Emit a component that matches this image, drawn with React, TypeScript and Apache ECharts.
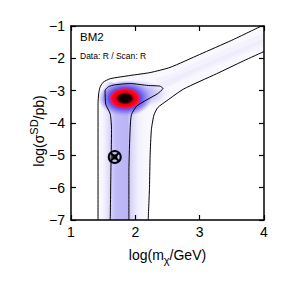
import React, { useEffect, useRef } from 'react';
import * as echarts from 'echarts';

// axis ranges / ticks
const xRange = [1, 4];
const yRange = [-7, -1];

// outer (95%) contour: left/top branch and lower/right branch
const outerUpper: [number, number][] = [
  [1.42, -7], [1.42, -5.5], [1.42, -4], [1.42, -3.4], [1.43, -3.1], [1.45, -2.9], [1.5, -2.74],
  [1.61, -2.63], [1.92, -2.53], [2.23, -2.44], [2.54, -2.28], [3.0, -1.88], [3.5, -1.44], [3.96, -1.0],
];
const outerLower: [number, number][] = [
  [2.2, -7], [2.22, -6], [2.23, -5], [2.25, -4.2], [2.29, -3.75], [2.35, -3.52], [2.49, -3.31],
  [2.75, -2.95], [3.26, -2.48], [3.68, -2.08], [4.0, -1.79],
];
// inner (68%) contour
const innerContour: [number, number][] = [
  [1.61, -7], [1.62, -5.5], [1.63, -4.2], [1.61, -3.72], [1.54, -3.42], [1.53, -3.0], [1.58, -2.88],
  [1.68, -2.82], [1.92, -2.78], [2.2, -2.84], [2.38, -2.86], [2.43, -2.93], [2.34, -3.1],
  [2.18, -3.28], [2.02, -3.48], [1.94, -3.74], [1.92, -4.15], [1.9, -5.5], [1.9, -7],
];

// density layers
const armCore: [number, number][] = [
  [2.3, -2.62], [2.6, -2.45], [3.0, -2.06], [3.5, -1.63], [4.0, -1.2], [4.0, -1.62],
  [3.5, -2.03], [3.0, -2.45], [2.6, -2.8], [2.4, -3.0],
];
const armInner: [number, number][] = [
  [2.35, -2.78], [3.0, -2.24], [3.6, -1.72], [4.0, -1.38], [4.0, -1.5], [3.6, -1.86],
  [3.0, -2.36], [2.45, -2.92],
];
const stripBand: [number, number][] = [
  [1.44, -7], [2.2, -7], [2.22, -3.7], [2.05, -3.25], [1.85, -2.92], [1.6, -2.72], [1.47, -2.85], [1.44, -3.1],
];
// broad halo around the peak: [x, y, rx, ry]
const halo = [2.0, -3.1, 0.52, 0.45];
// peak of the posterior: [x, y, rx, ry]
const peak = [1.84, -3.24, 0.42, 0.56];
// benchmark point
const benchmark: [number, number][] = [[1.68, -5.05]];

const fmtY = (v: number) => (v < 0 ? '\u2212' + Math.abs(v) : String(v));

function polySeries(points: [number, number][], fill: any, z = 1) {
  return {
    type: 'custom',
    coordinateSystem: 'cartesian2d',
    silent: true,
    z,
    clip: true,
    data: [points[0]],
    renderItem: (params: any, api: any) => ({
      type: 'polygon',
      shape: { points: points.map((p) => api.coord(p)) },
      style: { fill, stroke: 'none' },
    }),
  };
}

function glowSeries(item: number[], stops: { offset: number; color: string }[], z: number) {
  return {
    type: 'custom',
    coordinateSystem: 'cartesian2d',
    silent: true,
    z,
    clip: true,
    data: [item],
    renderItem: (params: any, api: any) => {
      const c = api.coord([api.value(0), api.value(1)]);
      const s = api.size([api.value(2), api.value(3)]);
      const ry = s[1];
      return {
        type: 'group',
        x: c[0], y: c[1],
        scaleX: s[0] / ry,
        children: [{
          type: 'circle',
          shape: { cx: 0, cy: 0, r: ry },
          style: { fill: new echarts.graphic.RadialGradient(0.5, 0.5, 0.5, stops) },
        }],
      };
    },
  };
}

export default function App() {
  const ref = useRef<HTMLDivElement>(null);
  useEffect(() => {
    if (!ref.current) return;
    const chart = echarts.init(ref.current, null, { renderer: 'svg' });
    const font = 'Liberation Sans, Arial, sans-serif';
    const axisCommon = {
      type: 'value',
      interval: 1,
      z: 10,
      axisLine: { show: true, lineStyle: { color: '#000', width: 1.5 } },
      axisTick: { show: true, inside: true, length: 5, lineStyle: { color: '#000', width: 1.2 } },
      splitLine: { show: false },
    };
    const outerPoly = [...outerUpper, [4, -1] as [number, number], ...outerLower.slice().reverse()];
    chart.setOption({
      animation: false,
      grid: { left: 71, right: 27, top: 26, bottom: 71 },
      xAxis: [
        {
          ...axisCommon,
          min: xRange[0], max: xRange[1], position: 'bottom',
          axisLabel: { fontSize: 14, color: '#000', margin: 5, fontFamily: font },
          name: 'log(m{sub|\u03c7}/GeV)',
          nameLocation: 'middle',
          nameGap: 22,
          nameTextStyle: {
            fontSize: 14, color: '#000', fontFamily: font, lineHeight: 22,
            rich: { sub: { fontSize: 11, color: '#000', fontFamily: font, verticalAlign: 'bottom', lineHeight: 22, padding: [9, 0, 0, 0] } },
          },
        },
        { ...axisCommon, min: xRange[0], max: xRange[1], position: 'top', axisLabel: { show: false } },
      ],
      yAxis: [
        {
          ...axisCommon,
          min: yRange[0], max: yRange[1], position: 'left',
          axisLabel: { fontSize: 14, color: '#000', margin: 6, fontFamily: font, formatter: fmtY },
        },
        { ...axisCommon, min: yRange[0], max: yRange[1], position: 'right', axisLabel: { show: false } },
      ],
      graphic: [
        { type: 'text', left: 80, top: 31, style: { text: 'BM2', fontSize: 11.5, fill: '#000', fontFamily: font } },
        { type: 'text', left: 80, top: 51, style: { text: 'Data: R / Scan: R', fontSize: 8.5, fill: '#000', fontFamily: font } },
        {
          type: 'text', x: 39, y: 131, rotation: Math.PI / 2,
          style: {
            text: 'log(\u03c3{sup|SD}/pb)', fontSize: 14, fill: '#000', fontFamily: font,
            align: 'center', verticalAlign: 'middle', lineHeight: 22,
            rich: { sup: { fontSize: 11, fill: '#000', fontFamily: font, verticalAlign: 'top', lineHeight: 22, padding: [0, 0, 8, 0] } },
          },
        },
      ],
      series: [
        polySeries(outerPoly, '#f9f8fe', 1),
        polySeries(armCore, '#f4f3fd', 1),
        polySeries(armInner, '#efedfc', 1),
        polySeries(stripBand, new echarts.graphic.LinearGradient(0, 0, 1, 0, [
          { offset: 0, color: 'rgba(249,248,254,0)' },
          { offset: 0.12, color: '#eeecfc' },
          { offset: 0.22, color: '#d8d4f9' },
          { offset: 0.33, color: '#c0baf6' },
          { offset: 0.56, color: '#bbb4f5' },
          { offset: 0.63, color: '#d8d4f9' },
          { offset: 0.77, color: '#f1effd' },
          { offset: 1, color: 'rgba(249,248,254,0)' },
        ]), 1),
        glowSeries(halo, [
          { offset: 0, color: 'rgba(160,152,242,1)' },
          { offset: 0.5, color: 'rgba(176,169,244,0.8)' },
          { offset: 0.8, color: 'rgba(206,201,248,0.45)' },
          { offset: 1, color: 'rgba(230,227,252,0)' },
        ], 2),
        glowSeries(peak, [
          { offset: 0, color: '#000000' },
          { offset: 0.22, color: '#200000' },
          { offset: 0.34, color: '#e4000c' },
          { offset: 0.46, color: '#ff0024' },
          { offset: 0.53, color: '#ff1450' },
          { offset: 0.59, color: '#5a50ee' },
          { offset: 0.8, color: 'rgba(141,133,241,0.8)' },
          { offset: 1, color: 'rgba(172,165,243,0)' },
        ], 2),
        {
          type: 'line', data: innerContour, smooth: 0.2, symbol: 'none', z: 3,
          lineStyle: { color: '#000', width: 1 }, silent: true,
        },
        {
          type: 'line', data: outerUpper, smooth: 0.2, symbol: 'none', z: 3,
          lineStyle: { color: '#000', width: 1 }, silent: true,
        },
        {
          type: 'line', data: outerLower, smooth: 0.2, symbol: 'none', z: 3,
          lineStyle: { color: '#000', width: 1 }, silent: true,
        },
        {
          type: 'custom',
          coordinateSystem: 'cartesian2d',
          silent: true,
          z: 5,
          data: benchmark,
          renderItem: (params: any, api: any) => {
            const c = api.coord([api.value(0), api.value(1)]);
            const r = 4.2;
            return {
              type: 'group',
              x: c[0], y: c[1],
              children: [
                { type: 'circle', shape: { cx: 0, cy: 0, r: 6 }, style: { fill: 'none', stroke: '#000', lineWidth: 2 } },
                { type: 'line', shape: { x1: -r, y1: -r, x2: r, y2: r }, style: { stroke: '#000', lineWidth: 2 } },
                { type: 'line', shape: { x1: -r, y1: r, x2: r, y2: -r }, style: { stroke: '#000', lineWidth: 2 } },
                { type: 'rect', shape: { x: -2.5, y: -2.5, width: 5, height: 5 }, style: { fill: '#000' } },
              ],
            };
          },
        },
      ],
    });
    return () => chart.dispose();
  }, []);
  return <div ref={ref} style={{ width: 291, height: 291, position: 'absolute', left: 0, top: 0 }} />;
}
